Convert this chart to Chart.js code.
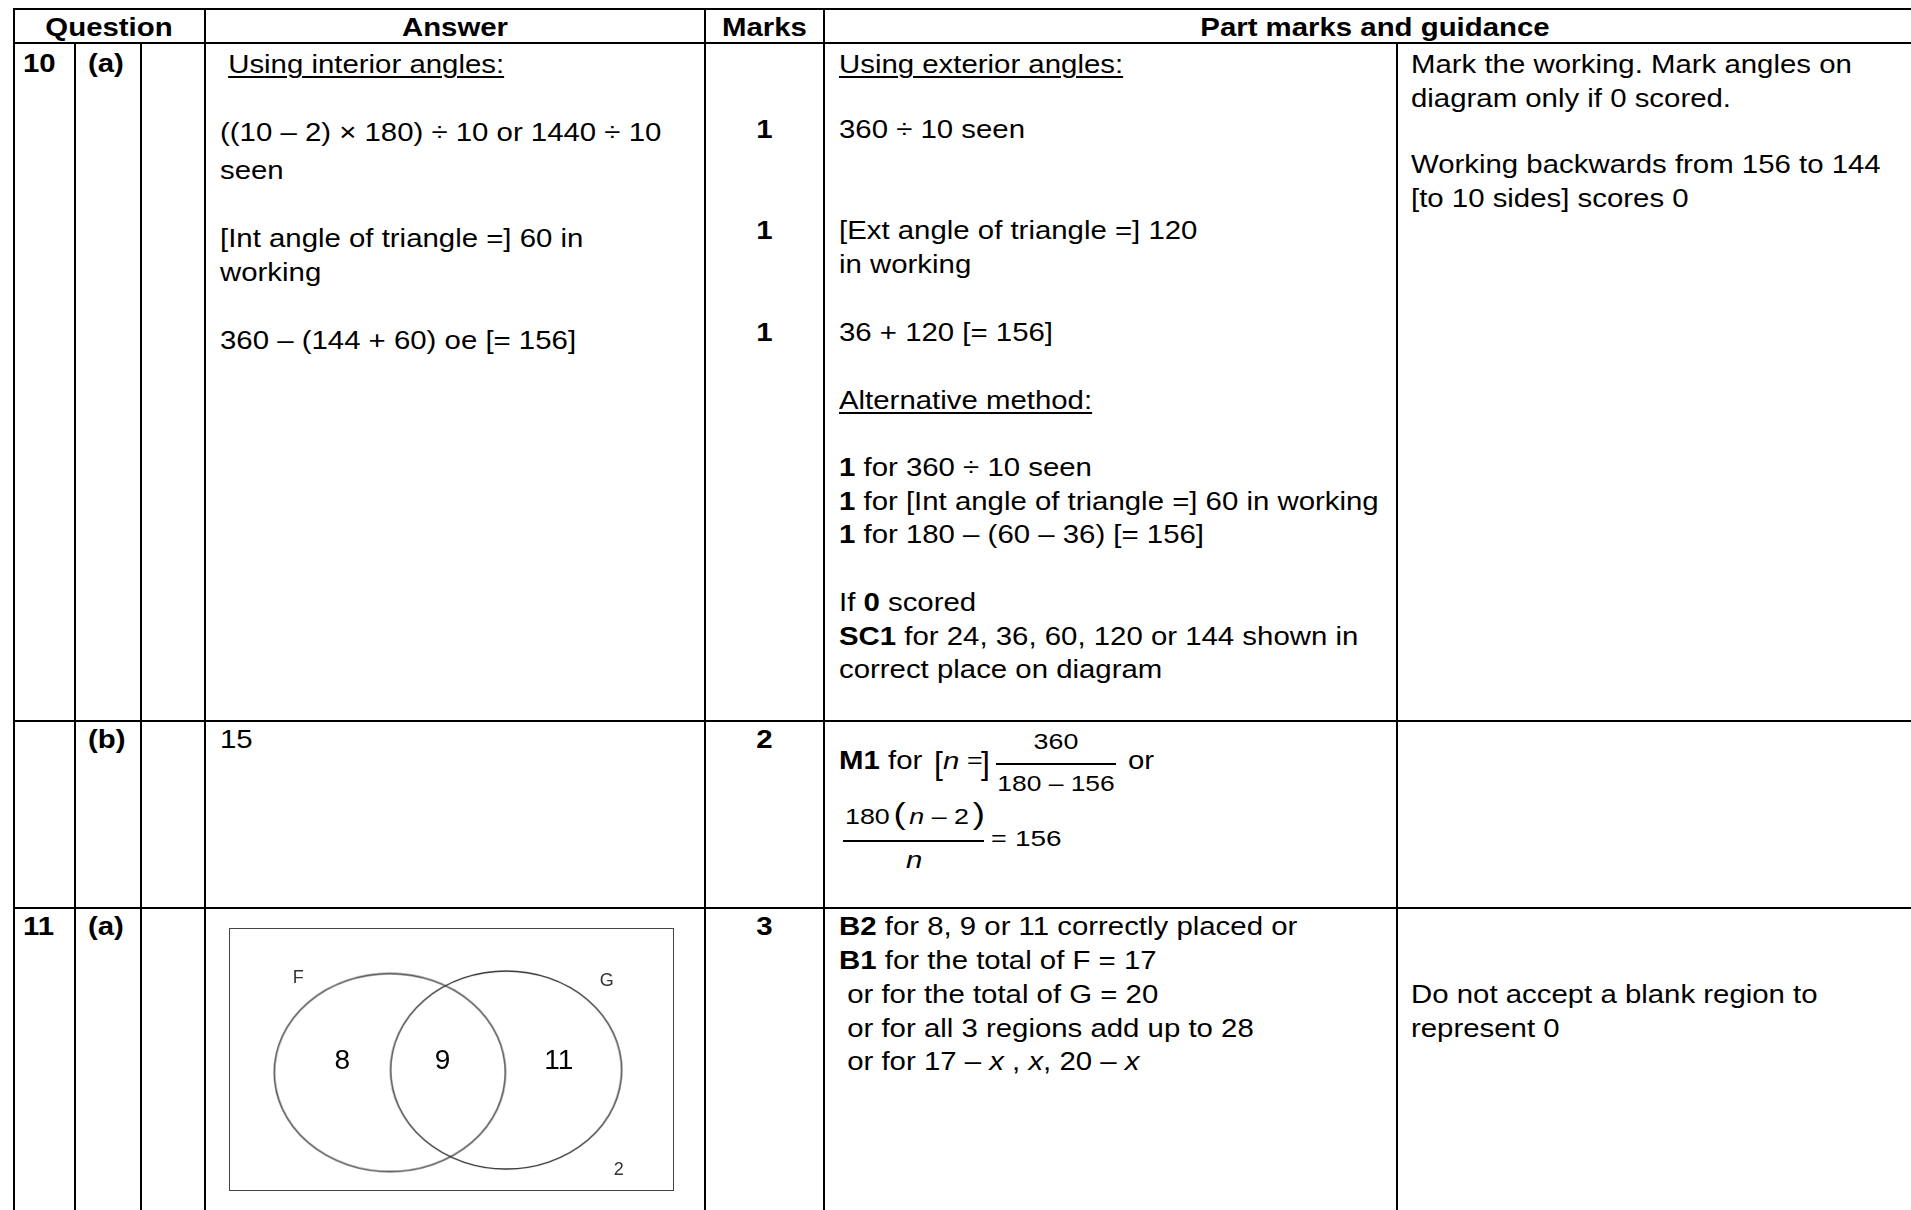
<!DOCTYPE html>
<html>
<head>
<meta charset="utf-8">
<script src="https://cdn.jsdelivr.net/npm/chart.js@4.4.0/dist/chart.umd.min.js"></script>
<style>
  html, body { margin: 0; padding: 0; background: #fff; }
  #page { position: relative; width: 1911px; height: 1210px; overflow: hidden; }
  .h { position: absolute; height: 2px; background: #000; left: 13px; width: 1912px; }
  .v { position: absolute; width: 2px; background: #000; bottom: 0; }
  .t {
    position: absolute; white-space: pre; color: #000;
    font-family: "Liberation Sans", Arial, sans-serif; font-size: 25px; line-height: 25px;
    transform: scaleX(1.175); transform-origin: 0 0;
  }
  .t.c { text-align: center; transform-origin: 50% 0; }
  .b { font-weight: bold; }
  .u { text-decoration: underline; text-underline-offset: 3px; text-decoration-thickness: 2px; }
  .m {
    position: absolute; white-space: pre; color: #000;
    font-family: "Liberation Sans", Arial, sans-serif; font-size: 22px; line-height: 22px;
    transform: scaleX(1.22); transform-origin: 0 0;
  }
  .m.c { text-align: center; transform-origin: 50% 0; }
  .bar { position: absolute; height: 2px; background: #000; }
  #venn { position: absolute; left: 229px; top: 928px; width: 445px; height: 263px;
          border: 1.5px solid #444; box-sizing: border-box; }
</style>
</head>
<body>
<div id="page">
  <!-- grid -->
  <div class="h" style="top:8px"></div>
  <div class="h" style="top:42px"></div>
  <div class="h" style="top:720px"></div>
  <div class="h" style="top:907px"></div>
  <div class="v" style="left:13px;top:8px"></div>
  <div class="v" style="left:74px;top:42px"></div>
  <div class="v" style="left:140px;top:42px"></div>
  <div class="v" style="left:204px;top:8px"></div>
  <div class="v" style="left:704px;top:8px"></div>
  <div class="v" style="left:823px;top:8px"></div>
  <div class="v" style="left:1396px;top:42px"></div>

  <!-- header -->
  <div class="t c b" style="left:14px;width:190px;top:15px">Question</div>
  <div class="t c b" style="left:206px;width:498px;top:15px">Answer</div>
  <div class="t c b" style="left:706px;width:117px;top:15px">Marks</div>
  <div class="t c b" style="left:825px;width:1100px;top:15px">Part marks and guidance</div>

  <!-- 10 (a) -->
  <div class="t b" style="left:23px;top:51px">10</div>
  <div class="t b" style="left:88px;top:51px">(a)</div>

  <div class="t" style="left:220px;top:52px"> <span class="u">Using interior angles:</span></div>
  <div class="t" style="left:220px;top:120px">((10 – 2) × 180) ÷ 10 or 1440 ÷ 10</div>
  <div class="t" style="left:220px;top:158px">seen</div>
  <div class="t" style="left:220px;top:226px">[Int angle of triangle =] 60 in</div>
  <div class="t" style="left:220px;top:260px">working</div>
  <div class="t" style="left:220px;top:328px">360 – (144 + 60) oe [= 156]</div>

  <div class="t c b" style="left:706px;width:117px;top:117px">1</div>
  <div class="t c b" style="left:706px;width:117px;top:218px">1</div>
  <div class="t c b" style="left:706px;width:117px;top:320px">1</div>

  <div class="t" style="left:839px;top:52px"><span class="u">Using exterior angles:</span></div>
  <div class="t" style="left:839px;top:117px">360 ÷ 10 seen</div>
  <div class="t" style="left:839px;top:218px">[Ext angle of triangle =] 120</div>
  <div class="t" style="left:839px;top:252px">in working</div>
  <div class="t" style="left:839px;top:320px">36 + 120 [= 156]</div>
  <div class="t" style="left:839px;top:388px"><span class="u">Alternative method:</span></div>
  <div class="t" style="left:839px;top:455px"><b>1</b> for 360 ÷ 10 seen</div>
  <div class="t" style="left:839px;top:489px"><b>1</b> for [Int angle of triangle =] 60 in working</div>
  <div class="t" style="left:839px;top:522px"><b>1</b> for 180 – (60 – 36) [= 156]</div>
  <div class="t" style="left:839px;top:590px">If <b>0</b> scored</div>
  <div class="t" style="left:839px;top:624px"><b>SC1</b> for 24, 36, 60, 120 or 144 shown in</div>
  <div class="t" style="left:839px;top:657px">correct place on diagram</div>

  <div class="t" style="left:1411px;top:52px">Mark the working. Mark angles on</div>
  <div class="t" style="left:1411px;top:86px">diagram only if 0 scored.</div>
  <div class="t" style="left:1411px;top:152px">Working backwards from 156 to 144</div>
  <div class="t" style="left:1411px;top:186px">[to 10 sides] scores 0</div>

  <!-- (b) -->
  <div class="t b" style="left:88px;top:727px">(b)</div>
  <div class="t" style="left:220px;top:727px">15</div>
  <div class="t c b" style="left:706px;width:117px;top:727px">2</div>

  <div class="t" style="left:839px;top:748px"><b>M1</b> for</div>
  <div class="t" style="left:934px;top:747px;font-size:32px;line-height:32px;transform:none;font-weight:100">[</div>
  <div class="m" style="left:943px;top:749px;font-size:24px;line-height:24px"><i>n</i></div>
  <div class="m" style="left:967px;top:750px">=</div>
  <div class="t" style="left:981px;top:747px;font-size:32px;line-height:32px;transform:none">]</div>
  <div class="m c" style="left:996px;width:120px;top:731px">360</div>
  <div class="bar" style="left:996px;top:763px;width:120px"></div>
  <div class="m c" style="left:996px;width:120px;top:773px;transform:scaleX(1.2)">180 – 156</div>
  <div class="t" style="left:1128px;top:748px">or</div>

  <div class="m" style="left:845px;top:803px">180<span style="font-size:30px;margin:0 3px">(</span><i>n</i> – 2<span style="font-size:30px;margin:0 3px">)</span></div>
  <div class="bar" style="left:843px;top:840px;width:141px"></div>
  <div class="m" style="left:991px;top:828px">=</div>
  <div class="m" style="left:1015px;top:828px;transform:scaleX(1.27)">156</div>
  <div class="m" style="left:906px;top:848px;font-size:24px;line-height:24px"><i>n</i></div>

  <!-- 11 (a) -->
  <div class="t b" style="left:23px;top:914px">11</div>
  <div class="t b" style="left:88px;top:914px">(a)</div>
  <div class="t c b" style="left:706px;width:117px;top:914px">3</div>

  <div class="t" style="left:839px;top:914px"><b>B2</b> for 8, 9 or 11 correctly placed or</div>
  <div class="t" style="left:839px;top:948px"><b>B1</b> for the total of F = 17</div>
  <div class="t" style="left:839px;top:982px"> or for the total of G = 20</div>
  <div class="t" style="left:839px;top:1016px"> or for all 3 regions add up to 28</div>
  <div class="t" style="left:839px;top:1049px"> or for 17 – <i>x</i> , <i>x</i>, 20 – <i>x</i></div>

  <div class="t" style="left:1411px;top:982px">Do not accept a blank region to</div>
  <div class="t" style="left:1411px;top:1016px">represent 0</div>

  <div id="venn"><canvas id="vennChart"></canvas></div>
</div>

<script>
// Venn diagram for 11(a)
const setNames = ['F', 'G'];
const regionNames = ['F only', 'F and G', 'G only', 'Neither'];
const regionCounts = [8, 9, 11, 2];

// where things sit inside the box (box units = px of the box)
const setCentres = [{ x: 159.5, y: 143 }, { x: 275.5, y: 140.5 }];
const setLabelSpots = [{ x: 68, y: 49 }, { x: 376, y: 52 }];
const regionSpots = [{ x: 112, y: 132 }, { x: 212, y: 132 }, { x: 328, y: 132 }, { x: 388, y: 240 }];

function ellipseImage(rx, ry) {
  const c = document.createElement('canvas');
  c.width = Math.ceil(rx * 2 + 4);
  c.height = Math.ceil(ry * 2 + 4);
  const g = c.getContext('2d');
  g.strokeStyle = '#333';
  g.lineWidth = 1.4;
  g.beginPath();
  g.ellipse(c.width / 2, c.height / 2, rx, ry, 0, 0, Math.PI * 2);
  g.stroke();
  return c;
}

const pointText = {
  id: 'pointText',
  afterDatasetsDraw(chart) {
    const ctx = chart.ctx;
    chart.data.datasets.forEach((ds, i) => {
      if (!ds.texts) return;
      chart.getDatasetMeta(i).data.forEach((pt, j) => {
        ctx.save();
        ctx.font = ds.textFonts[j];
        ctx.fillStyle = ds.textColors[j];
        ctx.textAlign = 'center';
        ctx.textBaseline = 'middle';
        ctx.fillText(ds.texts[j], pt.x, pt.y);
        ctx.restore();
      });
    });
  }
};

const big = '28px "Liberation Sans", Arial, sans-serif';
const small = '18px "Liberation Sans", Arial, sans-serif';
const ring = ellipseImage(115.5, 99);

new Chart(document.getElementById('vennChart'), {
  type: 'scatter',
  data: {
    datasets: [
      {
        label: 'sets',
        data: setCentres,
        pointStyle: ring,
        pointRadius: 2,
        clip: false
      },
      {
        label: 'set names',
        data: setLabelSpots,
        pointRadius: 0,
        texts: setNames,
        textFonts: [small, small],
        textColors: ['#333', '#333']
      },
      {
        label: 'counts',
        data: regionSpots,
        pointRadius: 0,
        texts: regionCounts.map(String),
        textFonts: [big, big, big, small],
        textColors: ['#000', '#000', '#000', '#333']
      }
    ]
  },
  options: {
    responsive: true,
    maintainAspectRatio: false,
    animation: false,
    events: [],
    layout: { padding: 0, autoPadding: false },
    plugins: { legend: { display: false }, tooltip: { enabled: false } },
    scales: {
      x: { type: 'linear', min: 0, max: 442, display: false },
      y: { type: 'linear', min: 0, max: 260, reverse: true, display: false }
    }
  },
  plugins: [pointText]
});
</script>
</body>
</html>
